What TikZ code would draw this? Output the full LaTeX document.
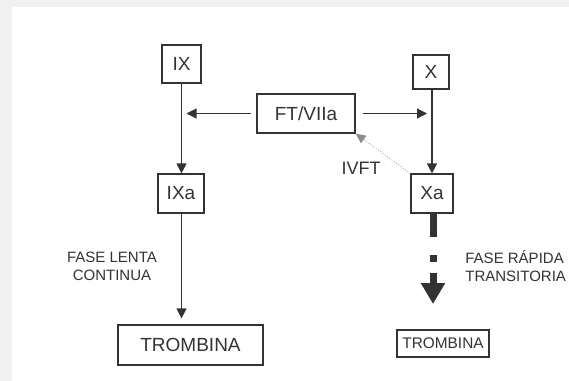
\documentclass[tikz,border=0pt]{standalone}
\usepackage{fontspec}
\setmainfont{Liberation Sans}
\usetikzlibrary{arrows.meta}
\definecolor{ink}{gray}{0.2}
\tikzset{
  factor/.style={draw=ink, line width=0.6pt, text=ink, inner sep=0pt, font=\fontsize{9.5}{11}\selectfont},
  fase/.style={text=ink, align=center, font=\fontsize{7.5}{9}\selectfont},
  flow/.style={draw=ink, line width=0.6pt, -{Triangle[length=5pt,width=5pt]}}
}
\begin{document}
\begin{tikzpicture}[x=0.5pt, y=-0.5pt]
		%%%%% START %%%%%
		\useasboundingbox (0, 0) rectangle (569, 381);
		\fill[black!6] (0, 0) rectangle (569, 381);
		\fill[white] (12, 7) rectangle (569, 381);
		
		\node[factor, minimum width=19.5pt, minimum height=19pt] (IX) at (181.5, 64) {IX};
		\node[factor, minimum width=18pt, minimum height=17pt] (X) at (431, 72) {X};
		\node[factor, minimum width=49pt, minimum height=19.5pt] (FT) at (306, 113.5) {FT/VIIa};
		\node[factor, minimum width=23pt, minimum height=19.5pt] (IXa) at (181, 193.5) {IXa};
		\node[factor, minimum width=21pt, minimum height=19.5pt] (Xa) at (432, 193.5) {Xa};
		\node[factor, minimum width=72.5pt, minimum height=20pt] (trombL) at (190.5, 345) {TROMBINA};
		\node[factor, minimum width=46pt, minimum height=13.5pt, font=\fontsize{7.7}{9}\selectfont] (trombR) at (443, 343.5) {TROMBINA};
		
		\node[text=ink, font=\fontsize{9}{11}\selectfont] (ivft) at (361, 168) {IVFT};
		\node[fase] (lenta) at (112, 266) {FASE LENTA\\CONTINUA};
		\node[fase, anchor=west, align=left, inner sep=0pt] (rapida) at (465, 266) {FASE RÁPIDA\\TRANSITORIA};
		
		% activation by FT/VIIa
		\draw[flow, shorten <=2.5pt, shorten >=2.5pt] (FT.west) -- (FT.west -| IX.south);
		\draw[flow, shorten <=3.5pt, shorten >=2pt] (FT.east) -- (FT.east -| X.south);
		\draw[flow] (IX.south) -- (IX.south |- IXa.north);
		\draw[flow] (X.south -| Xa.north) -- (Xa.north);
		\draw[draw=black!45, line width=0.4pt, densely dotted, -{Triangle[length=5pt,width=4.5pt]}] (Xa.north west) -- (FT.south east);
		
		% slow phase
		\draw[flow, shorten >=3pt] (IXa.south -| IX.south) -- (IX.south |- trombL.north);
		
		% fast phase
		\coordinate (dotA) at (433, 255);
		\coordinate (arrA) at (433, 273);
		\coordinate (arrB) at (433, 304);
		\draw[line width=3.5pt, draw=ink] (Xa.south -| dotA) -- ++(0, 23);
		\fill[ink] ([xshift=-1.75pt]dotA) rectangle ++(7, 7);
		\draw[line width=3.5pt, draw=ink, -{Triangle[length=10.5pt,width=11.5pt]}] (arrA) -- (arrB);
		%%%%% END %%%%%
	\end{tikzpicture}
\end{document}
